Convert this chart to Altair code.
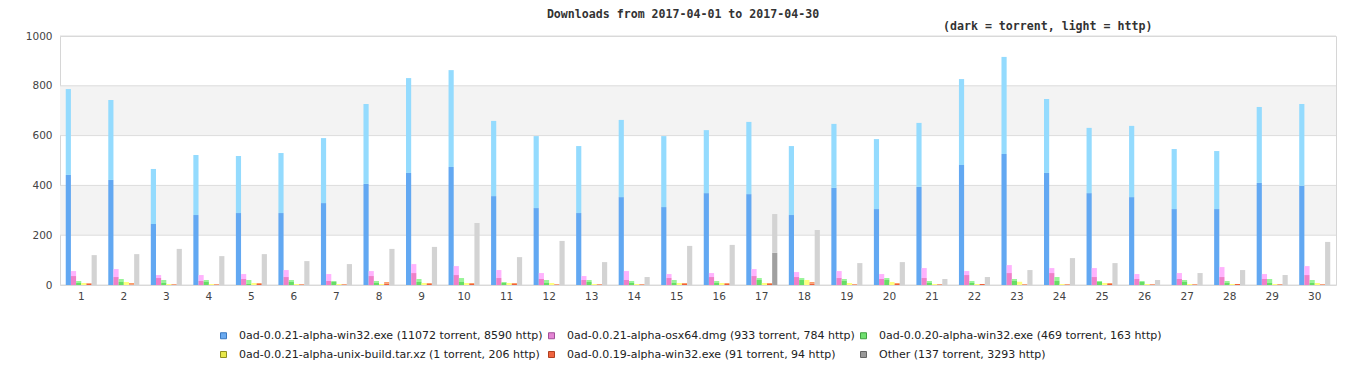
import altair as alt
import pandas as pd

days = list(range(1, 31))
series = [
    "0ad-0.0.21-alpha-win32.exe (11072 torrent, 8590 http)",
    "0ad-0.0.21-alpha-osx64.dmg (933 torrent, 784 http)",
    "0ad-0.0.20-alpha-win32.exe (469 torrent, 163 http)",
    "0ad-0.0.21-alpha-unix-build.tar.xz (1 torrent, 206 http)",
    "0ad-0.0.19-alpha-win32.exe (91 torrent, 94 http)",
    "Other (137 torrent, 3293 http)",
]

win32_torrent = [442, 422, 245, 281, 289, 289, 329, 406, 450, 474,
                 357, 309, 289, 353, 313, 369, 365, 281, 390, 305,
                 394, 482, 526, 450, 369, 353, 305, 305, 410, 398]
win32_http = [345, 321, 221, 241, 229, 241, 261, 321, 381, 389,
              302, 289, 269, 310, 285, 253, 290, 277, 257, 281,
              257, 345, 390, 297, 262, 286, 241, 233, 305, 329]
osx_torrent = [36, 32, 28, 16, 24, 32, 16, 36, 48, 40,
               28, 24, 20, 20, 28, 32, 36, 32, 28, 24,
               28, 40, 48, 48, 32, 24, 24, 32, 24, 40]
osx_http = [20, 32, 12, 24, 20, 28, 28, 20, 36, 36,
            32, 24, 16, 36, 16, 16, 28, 20, 28, 20,
            40, 16, 32, 20, 36, 20, 24, 40, 20, 36]
w20_torrent = [8, 12, 8, 12, 4, 12, 12, 8, 12, 12,
               8, 8, 12, 8, 8, 8, 20, 20, 16, 20,
               8, 8, 16, 16, 12, 12, 12, 8, 8, 8]
w20_http = [8, 12, 12, 8, 16, 8, 4, 8, 12, 16,
            4, 12, 8, 8, 12, 8, 8, 8, 8, 8,
            8, 8, 8, 16, 4, 4, 8, 8, 16, 12]
unix_torrent = [0, 0, 0, 0, 0, 0, 0, 0, 0, 0,
                0, 0, 0, 0, 0, 0, 0, 0, 0, 0,
                0, 0, 1, 0, 0, 0, 0, 0, 0, 0]
unix_http = [8, 12, 4, 4, 8, 4, 4, 4, 8, 8,
             8, 8, 4, 4, 8, 8, 8, 20, 8, 12,
             4, 4, 12, 4, 8, 4, 4, 4, 4, 8]
w19_torrent = [6, 2, 2, 2, 4, 2, 2, 6, 4, 4,
               4, 2, 2, 2, 4, 4, 4, 6, 2, 4,
               2, 4, 2, 2, 4, 2, 2, 4, 2, 2]
w19_http = [2, 6, 2, 2, 4, 2, 2, 6, 4, 4,
            4, 2, 2, 2, 4, 4, 4, 6, 2, 4,
            2, 0, 2, 2, 4, 2, 2, 0, 2, 2]
other_torrent = [0, 0, 0, 0, 0, 0, 0, 0, 0, 0,
                 0, 0, 0, 0, 0, 0, 129, 0, 0, 0,
                 0, 0, 0, 0, 0, 0, 0, 0, 0, 0]
other_http = [120, 124, 145, 116, 124, 96, 84, 145, 153, 249,
              112, 177, 92, 32, 157, 161, 156, 221, 88, 92,
              24, 32, 60, 108, 88, 20, 48, 60, 40, 173]

torrent_lists = [win32_torrent, osx_torrent, w20_torrent, unix_torrent, w19_torrent, other_torrent]
http_lists = [win32_http, osx_http, w20_http, unix_http, w19_http, other_http]

dark_colors = ["#62a8f2", "#f07fc9", "#66dd66", "#e0e040", "#f0603a", "#a0a0a0"]
light_colors = ["#94dbfe", "#ffb3fd", "#98f598", "#ffff80", "#fb9c68", "#d3d3d3"]
legend_fill = ["#6aaaf0", "#e484d4", "#70e070", "#e8e84a", "#f06440", "#9a9a9a"]
legend_stroke = ["#3a78c0", "#a05098", "#40a040", "#909020", "#b04020", "#666666"]

band_lo = [200, 600]
band_hi = [400, 800]
grid_vals = [0, 200, 400, 600, 800, 1000]

title_text = "Downloads from 2017-04-01 to 2017-04-30"
subtitle_text = "(dark = torrent, light = http)"

rows = []
keys = []
key_colors = []
for si, s in enumerate(series):
    keys += [f"{si}-t", f"{si}-h"]
    key_colors += [dark_colors[si], light_colors[si]]
    for di, d in enumerate(days):
        t = torrent_lists[si][di]
        h = http_lists[si][di]
        rows.append({"day": d, "series": s, "key": f"{si}-t", "y0": 0, "y1": t})
        rows.append({"day": d, "series": s, "key": f"{si}-h", "y0": t, "y1": t + h})
df = pd.DataFrame(rows)

W, H = 1276, 249
yscale = alt.Scale(domain=[0, 1000], nice=False)

bands = alt.Chart(pd.DataFrame({"lo": band_lo, "hi": band_hi})).mark_rect(
    color="#f3f3f3"
).encode(
    x=alt.value(0), x2=alt.value(W),
    y=alt.Y("lo:Q", scale=yscale), y2="hi:Q",
)

grid = alt.Chart(pd.DataFrame({"v": grid_vals})).mark_rule(
    color="#dcdcdc", strokeWidth=1
).encode(y=alt.Y("v:Q", scale=yscale))

bars = alt.Chart(df).mark_bar().encode(
    x=alt.X("day:O", scale=alt.Scale(paddingInner=0.27, paddingOuter=0.135),
            axis=alt.Axis(title=None, labelAngle=0, ticks=False, domain=False,
                          labelPadding=6, labelFont="DejaVu Sans", labelFontSize=10.5,
                          labelColor="#444")),
    xOffset=alt.XOffset("series:N", scale=alt.Scale(domain=series, paddingInner=0, paddingOuter=0)),
    y=alt.Y("y0:Q", scale=yscale,
            axis=alt.Axis(title=None, values=grid_vals, format="d", grid=False, ticks=False,
                          domain=False, labelPadding=8, labelFont="DejaVu Sans",
                          labelFontSize=10.5, labelColor="#444")),
    y2="y1:Q",
    fill=alt.Fill("key:N", scale=alt.Scale(domain=keys, range=key_colors), legend=None),
)

leg = alt.Legend(title=None, orient="none", legendX=158, legendY=294,
                 columns=3, direction="horizontal")
legend_layer = alt.Chart(df).transform_filter("false").mark_square(
    filled=True, opacity=1, size=36
).encode(
    color=alt.Color("series:N", scale=alt.Scale(domain=series, range=legend_fill), legend=leg),
    stroke=alt.Stroke("series:N", scale=alt.Scale(domain=series, range=legend_stroke), legend=leg),
)

title = alt.Chart(pd.DataFrame({"t": [title_text]})).mark_text(
    align="center", baseline="middle", font="DejaVu Sans Mono", fontSize=11.6,
    fontWeight="bold", color="#333"
).encode(x=alt.value(623), y=alt.value(-21), text="t:N")

subtitle = alt.Chart(pd.DataFrame({"t": [subtitle_text]})).mark_text(
    align="left", baseline="middle", font="DejaVu Sans Mono", fontSize=11.6,
    fontWeight="bold", color="#333"
).encode(x=alt.value(883), y=alt.value(-9), text="t:N")

chart = alt.layer(bands, grid, bars, legend_layer, title, subtitle).properties(
    width=W, height=H,
    autosize=alt.AutoSizeParams(type="none"),
    padding={"left": 52, "top": 28, "right": 22, "bottom": 87},
).configure_view(
    stroke="#d6d6d6", strokeWidth=1
).configure_legend(
    symbolType="square", symbolSize=36, symbolStrokeWidth=1,
    labelFont="DejaVu Sans", labelFontSize=11, labelColor="#222", labelOffset=10,
    rowPadding=7, columnPadding=3, padding=0, labelLimit=400,
)

chart.save("out.html", embed_options={"renderer": "svg", "actions": False})
